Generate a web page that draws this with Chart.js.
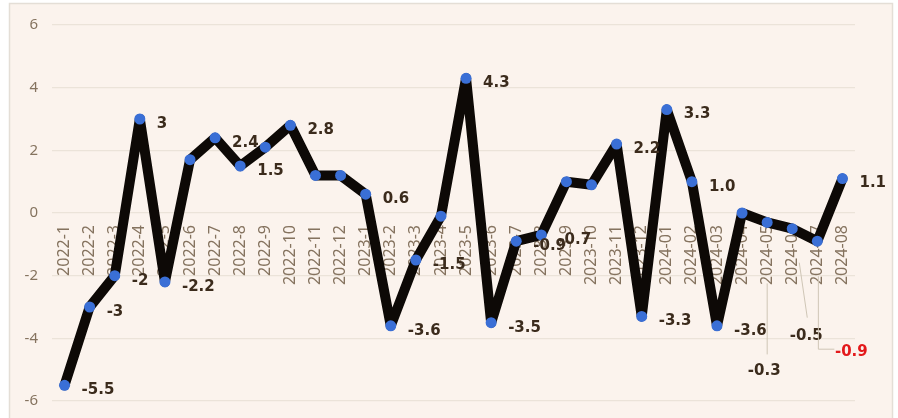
<!DOCTYPE html>
<html>
<head>
<meta charset="utf-8">
<script src="https://cdn.jsdelivr.net/npm/chart.js@4.4.1/dist/chart.umd.min.js"></script>
<style>
  html, body { margin: 0; padding: 0; background: #ffffff; }
  #wrap { width: 898px; height: 418px; position: relative; }
</style>
</head>
<body>
<div id="wrap"><canvas id="lineChart" width="898" height="418"></canvas></div>
<script>
// months on the x axis
const months = [
    '2022-1', '2022-2', '2022-3', '2022-4', '2022-5', '2022-6', '2022-7', '2022-8', '2022-9', '2022-10', '2022-11', '2022-12',
    '2023-1', '2023-2', '2023-3', '2023-4', '2023-5', '2023-6', '2023-7', '2023-8', '2023-9', '2023-10', '2023-11', '2023-12',
    '2024-01', '2024-02', '2024-03', '2024-04', '2024-05', '2024-06', '2024-07', '2024-08'
];
// monthly values
const values = [
    -5.5, -3, -2, 3, -2.2, 1.7, 2.4, 1.5, 2.1, 2.8, 1.2, 1.2,
    0.6, -3.6, -1.5, -0.1, 4.3, -3.5, -0.9, -0.7, 1.0, 0.9, 2.2, -3.3,
    3.3, 1.0, -3.6, 0, -0.3, -0.5, -0.9, 1.1
];
// text shown next to a point (null = no label)
const labelTexts = [
    '-5.5', '-3', '-2', '3', '-2.2', null, '2.4', '1.5', null, '2.8', null, null,
    '0.6', '-3.6', '-1.5', null, '4.3', '-3.5', '-0.9', '-0.7', null, null, '2.2', '-3.3',
    '3.3', '1.0', '-3.6', null, '-0.3', '-0.5', '-0.9', '1.1'
];
const yTicks = [-6, -4, -2, 0, 2, 4, 6];

// labels moved away from the line, with leader lines (pixel offsets from the point)
const movedLabels = {
    28: { dx: -3, dy: 149, color: '#3b2b1c', leader: [[0, 61], [0, 132]] },
    29: { dx: 14, dy: 107, color: '#3b2b1c', leader: [[7, 34], [15, 89]] },
    30: { dx: 34, dy: 111, color: '#e3191b', leader: [[1, 35], [1, 108], [17, 108]] }
};

const frame = {
    id: 'frame',
    beforeDraw(chart) {
        const c = chart.ctx;
        c.save();
        c.fillStyle = '#ffffff';
        c.fillRect(0, 0, chart.width, chart.height);
        c.fillStyle = '#fbf3ed';
        c.fillRect(9, 3, 884, chart.height);
        c.strokeStyle = '#e4ded6';
        c.lineWidth = 1.5;
        c.strokeRect(9.5, 3.5, 883, chart.height + 5);
        c.restore();
    }
};

const valueLabels = {
    id: 'valueLabels',
    afterDatasetsDraw(chart) {
        const c = chart.ctx;
        const pts = chart.getDatasetMeta(0).data;
        c.save();
        c.font = 'bold 15px "DejaVu Sans"';
        c.textBaseline = 'middle';
        pts.forEach((p, i) => {
            const txt = labelTexts[i];
            if (!txt) return;
            const m = movedLabels[i];
            if (m) {
                c.strokeStyle = '#cfc6b6';
                c.lineWidth = 1;
                c.beginPath();
                m.leader.forEach((o, k) => {
                    if (k === 0) c.moveTo(p.x + o[0], p.y + o[1]);
                    else c.lineTo(p.x + o[0], p.y + o[1]);
                });
                c.stroke();
                c.fillStyle = m.color;
                c.textAlign = 'center';
                c.fillText(txt, p.x + m.dx, p.y + m.dy);
            } else {
                c.fillStyle = '#3b2b1c';
                c.textAlign = 'left';
                c.fillText(txt, p.x + 17, p.y + 5);
            }
        });
        c.restore();
    }
};

var ctx = document.getElementById('lineChart').getContext('2d');
var lineChart = new Chart(ctx, {
    type: 'line',
    data: {
        labels: months,
        datasets: [{
            data: values,
            borderColor: '#0d0906',
            borderWidth: 10,
            borderJoinStyle: 'round',
            borderCapStyle: 'round',
            tension: 0,
            pointRadius: 5.5,
            pointBackgroundColor: '#3a6fd6',
            pointBorderColor: '#3a6fd6',
            pointBorderWidth: 0
        }]
    },
    options: {
        responsive: false,
        animation: false,
        devicePixelRatio: 1,
        layout: { padding: { top: 25, bottom: 17, right: 43, left: 0 } },
        plugins: {
            legend: { display: false },
            tooltip: { enabled: false }
        },
        scales: {
            x: {
                position: { y: 0 },
                offset: true,
                grid: { display: false },
                border: { display: false },
                ticks: {
                    autoSkip: false,
                    minRotation: 90,
                    maxRotation: 90,
                    padding: 4,
                    color: '#85735f',
                    font: { family: 'Noto Sans', size: 16 }
                },
                afterFit: function (scale) {
                    scale.height = 0;
                    scale.paddingLeft = 0;
                    scale.paddingRight = 0;
                }
            },
            y: {
                min: -6,
                max: 6,
                afterBuildTicks: function (scale) { scale.ticks = yTicks.map(v => ({ value: v })); },
                grid: { color: '#ebe3d9', lineWidth: 1.2, drawTicks: false },
                border: { display: false },
                ticks: {
                    padding: 14,
                    color: '#85735f',
                    font: { family: 'Noto Sans', size: 15 }
                },
                afterFit: function (scale) {
                    scale.width = 52;
                    scale.paddingTop = 0;
                    scale.paddingBottom = 0;
                }
            }
        }
    },
    plugins: [frame, valueLabels]
});
</script>
</body>
</html>
